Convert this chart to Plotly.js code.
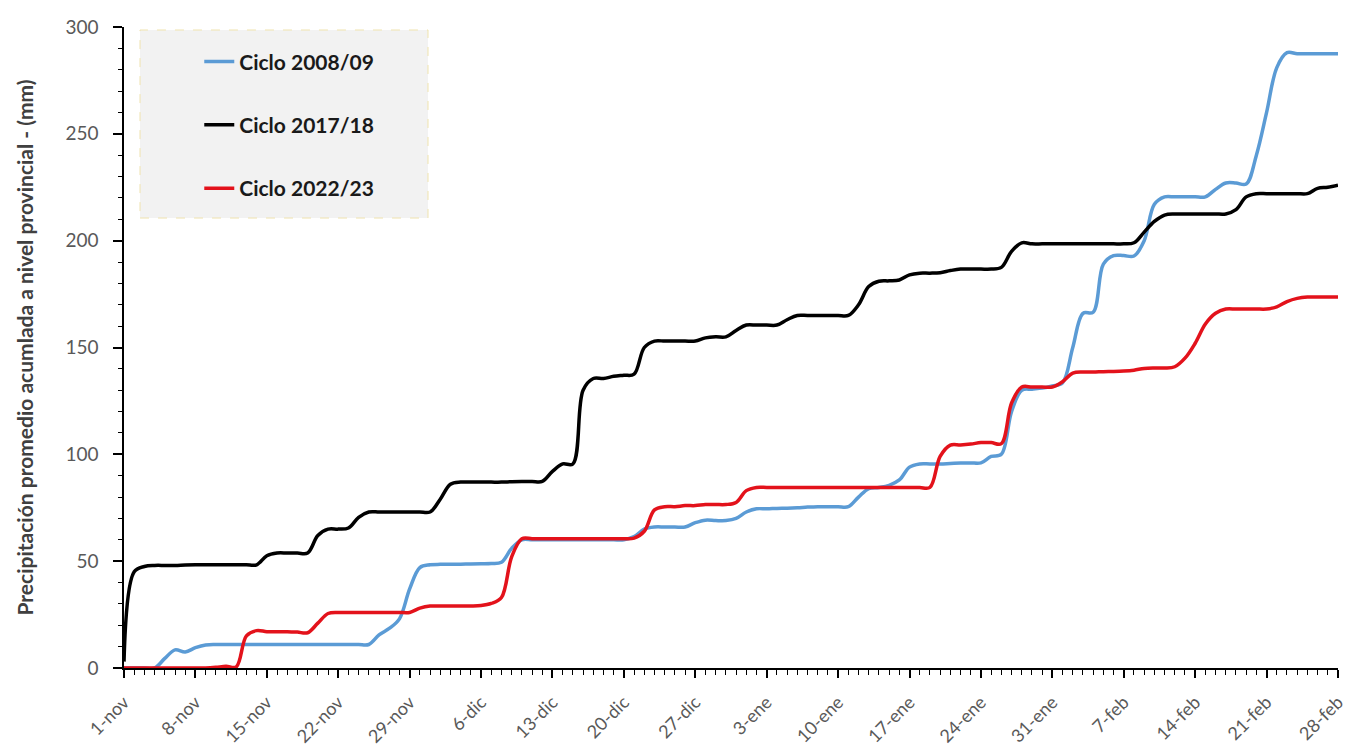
<!DOCTYPE html>
<html>
<head>
<meta charset="utf-8">
<script src="https://cdn.plot.ly/plotly-3.0.1.min.js"></script>
<style>
  html, body { margin: 0; padding: 0; background: #ffffff; }
  #chart { width: 1346px; height: 751px; }
</style>
</head>
<body>
<div id="chart"></div>
<script>
// Tick labels (one every 7 days, 1-nov .. 28-feb = 120 days)
const tickLabels = ["1-nov","8-nov","15-nov","22-nov","29-nov","6-dic","13-dic","20-dic","27-dic",
                    "3-ene","10-ene","17-ene","24-ene","31-ene","7-feb","14-feb","21-feb","28-feb"];

const seriesNames = ["Ciclo 2008/09", "Ciclo 2017/18", "Ciclo 2022/23"];

// Daily accumulated precipitation (mm), 1-nov .. 28-feb
const ciclo2008 = [
  0, 0, 0, 0, 4.5, 8.5, 7.5,
  9.5, 10.8, 11, 11, 11, 11, 11,
  11, 11, 11, 11, 11, 11, 11,
  11, 11, 11, 11, 15.5, 18.5, 23,
  37, 47, 48.3, 48.5, 48.5, 48.6, 48.7,
  48.8, 48.9, 49.5, 56, 60, 60, 60,
  60, 60, 60, 60, 60, 60, 60,
  60, 61.5, 65, 66, 66, 66, 66,
  68, 69.2, 69, 69, 70, 73, 74.5,
  74.5, 74.7, 74.8, 75, 75.3, 75.5, 75.5,
  75.5, 75.5, 80, 84, 84.5, 85.5, 88,
  94, 95.5, 95.5, 95.5, 95.7, 95.9, 96,
  96, 99, 100, 120, 130, 130.5, 131,
  132, 133.5, 150, 166, 166.5, 189, 193,
  193, 192.8, 200, 217, 220.5, 220.5, 220.5,
  220.5, 220.5, 224, 227, 227, 226.5, 240,
  260, 281, 288, 287.5, 287.5, 287.5, 287.5,
  287.5
];

const ciclo2017 = [
  3, 45, 47.5, 48, 48, 48, 48.2,
  48.3, 48.3, 48.3, 48.3, 48.3, 48.3, 48.3,
  52.5, 53.8, 53.8, 53.8, 53.8, 62, 65,
  65, 65.5, 70.5, 73, 73, 73, 73,
  73, 73, 73, 79, 86, 87, 87,
  87, 87, 87, 87.2, 87.3, 87.3, 87.3,
  92, 95.5, 95.5, 130, 135.5, 135.5, 136.5,
  137, 137.5, 150, 153, 153, 153, 153,
  153, 154.5, 155, 155, 158, 160.5, 160.5,
  160.5, 160.5, 163, 165, 165, 165, 165,
  165, 165, 170, 178.5, 181, 181.2, 181.6,
  184, 184.8, 184.8, 185, 186, 186.7, 186.7,
  186.7, 186.7, 187.5, 195, 199, 198.5, 198.5,
  198.5, 198.5, 198.5, 198.5, 198.5, 198.5, 198.5,
  198.5, 199, 204, 209, 212, 212.5, 212.5,
  212.5, 212.5, 212.5, 212.5, 214.5, 220.5, 222,
  222, 222, 222, 222, 222, 224.5, 225,
  226
];

const ciclo2022 = [
  0, 0, 0, 0, 0, 0, 0,
  0, 0, 0.3, 0.8, 0.5, 15, 17.5,
  17, 17, 17, 16.8, 16.5, 21, 25.5,
  26, 26, 26, 26, 26, 26, 26,
  26, 28, 29, 29, 29, 29, 29,
  29.2, 30.2, 33, 52, 60.5, 60.5, 60.5,
  60.5, 60.5, 60.5, 60.5, 60.5, 60.5, 60.5,
  60.5, 60.8, 64, 74, 75.5, 75.5, 76,
  76, 76.5, 76.5, 76.5, 77.5, 83, 84.5,
  84.5, 84.5, 84.5, 84.5, 84.5, 84.5, 84.5,
  84.5, 84.5, 84.5, 84.5, 84.5, 84.5, 84.5,
  84.5, 84.5, 84.5, 99, 104.3, 104.4, 104.8,
  105.5, 105.5, 105, 124, 131.5, 131.5, 131.5,
  131.5, 134, 138, 138.5, 138.5, 138.7, 138.8,
  139, 139.4, 140.2, 140.4, 140.4, 141, 145,
  152, 161, 166, 168, 168, 168, 168,
  168, 169, 171.5, 173, 173.6, 173.6, 173.6,
  173.6
];

const colors = ["#5b9bd5", "#000000", "#e3121b"];

const days = ciclo2017.map((_, i) => i);
const tickDays = tickLabels.map((_, i) => i * 7);

const allSeries = [ciclo2008, ciclo2017, ciclo2022];
const traces = allSeries.map((vals, k) => ({
  type: "scatter",
  mode: "lines",
  x: days,
  y: vals,
  name: seriesNames[k],
  legendgroup: "g" + k,
  line: { color: colors[k], width: 3.5, shape: "spline", smoothing: 1 },
  hoverinfo: "x+y+name"
}));

const FONT = "Lato, 'Open Sans', 'DejaVu Sans', sans-serif";

const layout = {
  width: 1346,
  height: 751,
  margin: { l: 124, r: 8, t: 27, b: 83 },
  paper_bgcolor: "#ffffff",
  plot_bgcolor: "#ffffff",
  font: { family: FONT, color: "#595959" },
  showlegend: true,
  legend: {
    x: 0.062, y: 0.9775, xanchor: "left", yanchor: "top",
    bgcolor: "rgba(0,0,0,0)",
    borderwidth: 0,
    tracegroupgap: 33,
    font: { family: FONT, size: 21, color: "#1a1a1a", weight: "bold" }
  },
  xaxis: {
    range: [0, 119],
    showgrid: false,
    zeroline: false,
    showline: true,
    linecolor: "#000000",
    linewidth: 1.5,
    ticks: "outside",
    ticklen: 8,
    tickwidth: 1.5,
    tickcolor: "#000000",
    tickmode: "array",
    tickvals: tickDays,
    ticktext: tickLabels,
    tickangle: -45,
    ticklabelstandoff: 7,
    ticklabeloverflow: "allow",
    tickfont: { family: FONT, size: 18, color: "#595959" },
    minor: { dtick: 1, ticks: "outside", ticklen: 5, tickwidth: 1, tickcolor: "#000000", showgrid: false },
    fixedrange: true
  },
  yaxis: {
    range: [0, 300],
    showgrid: false,
    zeroline: false,
    showline: true,
    linecolor: "#000000",
    linewidth: 1.5,
    ticks: "outside",
    ticklen: 9,
    tickwidth: 1.5,
    tickcolor: "#000000",
    dtick: 50,
    tick0: 0,
    ticklabelstandoff: 11,
    tickfont: { family: FONT, size: 19, color: "#595959" },
    minor: { dtick: 10, ticks: "outside", ticklen: 4, tickwidth: 1, tickcolor: "#000000", showgrid: false },
    title: {
      text: "Precipitación promedio acumlada a nivel provincial - (mm)",
      font: { family: FONT, size: 21, color: "#404040", weight: "bold" },
      standoff: 26
    },
    fixedrange: true
  },
  shapes: [{
    type: "rect",
    xref: "paper", yref: "paper",
    x0: 0.0132, x1: 0.2504, y0: 0.702, y1: 0.9953,
    fillcolor: "#f2f2f2",
    line: { color: "#efe3ae", width: 1, dash: "dash" },
    layer: "below"
  }]
};

Plotly.newPlot("chart", traces, layout, { displayModeBar: false, responsive: false });
</script>
</body>
</html>
